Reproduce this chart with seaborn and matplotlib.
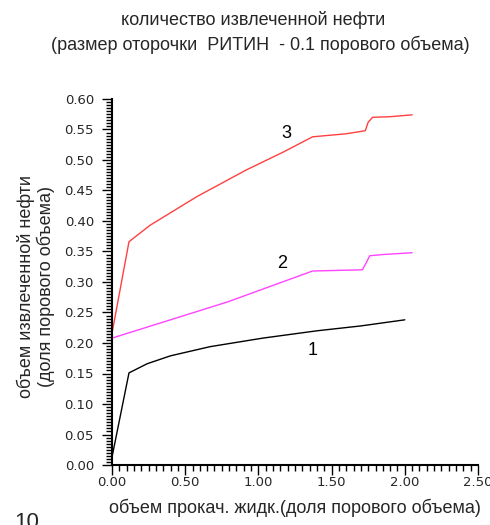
import matplotlib
matplotlib.use("Agg")
import matplotlib.pyplot as plt
import seaborn as sns
import pandas as pd
from matplotlib.ticker import MultipleLocator, FormatStrFormatter

# data
x1 = [0.0, 0.116, 0.24, 0.40, 0.67, 1.03, 1.40, 1.70, 2.00]
y1 = [0.013, 0.151, 0.166, 0.179, 0.194, 0.208, 0.220, 0.228, 0.238]
x2 = [0.0, 0.785, 1.37, 1.71, 1.74, 1.76, 1.85, 2.05]
y2 = [0.208, 0.267, 0.318, 0.320, 0.333, 0.343, 0.345, 0.348]
x3 = [0.0, 0.116, 0.26, 0.58, 0.92, 1.17, 1.37, 1.60, 1.73, 1.75, 1.78, 1.90, 2.05]
y3 = [0.216, 0.366, 0.393, 0.440, 0.484, 0.513, 0.538, 0.543, 0.548, 0.562, 0.570, 0.571, 0.574]
series_names = ["1", "2", "3"]
series_colors = ["#000000", "#ff44ff", "#ff4040"]
label_pos = [(1.37, 0.188), (1.16, 0.331), (1.19, 0.544)]

title1 = "количество извлеченной нефти"
title2 = "(размер оторочки  РИТИН  - 0.1 порового объема)"
xlabel = "объем прокач. жидк.(доля порового объема)"
ylabel = "объем извлеченной нефти\n(доля порового объема)"

sns.set_style("white")
plt.rcParams['font.family'] = ['Liberation Sans', 'DejaVu Sans']

df = pd.concat([
    pd.DataFrame({"x": x, "y": y, "s": n})
    for x, y, n in zip([x1, x2, x3], [y1, y2, y3], series_names)
])

fig = plt.figure(figsize=(4.9, 5.25), dpi=100)
ax = fig.add_axes([112/490, 1 - 465/525, 366/490, 366/525])
sns.lineplot(data=df, x="x", y="y", hue="s", palette=dict(zip(series_names, series_colors)),
             sort=False, estimator=None, linewidth=1.0, legend=False, ax=ax)

for n, (px, py) in zip(series_names, label_pos):
    ax.text(px, py, n, fontsize=13, ha="center", va="center", color="black")

ax.set_xlim(0, 2.5)
ax.set_ylim(0, 0.6)
ax.xaxis.set_major_locator(MultipleLocator(0.5))
ax.xaxis.set_minor_locator(MultipleLocator(0.05))
ax.yaxis.set_major_locator(MultipleLocator(0.05))
ax.yaxis.set_minor_locator(MultipleLocator(0.005))
ax.xaxis.set_major_formatter(FormatStrFormatter("%.2f"))
ax.yaxis.set_major_formatter(FormatStrFormatter("%.2f"))
ax.tick_params(which="major", direction="out", length=7, width=1, color="black",
               labelsize=9.5, bottom=True, left=True)
ax.tick_params(axis="x", which="major", pad=1)
ax.tick_params(axis="y", which="major", pad=6)
ax.tick_params(which="minor", direction="out", length=4, width=1, color="black",
               bottom=True, left=True)
for lab in ax.get_xticklabels() + ax.get_yticklabels():
    lab.set_family(['DejaVu Sans'])
for s in ["top", "right"]:
    ax.spines[s].set_visible(False)
for s in ["left", "bottom"]:
    ax.spines[s].set_color("black")
    ax.spines[s].set_linewidth(1.5)

ax.set_xlabel("")
ax.set_ylabel(ylabel, fontsize=13, linespacing=1.15, ha="center", va="center")
ax.yaxis.set_label_coords((36 - 112) / 366, (465 - 287) / 366)

fig.text(295/490, 1 - 508/525, xlabel, fontsize=13, ha="center", va="center")
fig.text(253/490, 1 - 20/525, title1, fontsize=13, ha="center", va="center")
fig.text(260/490, 1 - 45/525, title2, fontsize=13, ha="center", va="center")
fig.text(14/490, 1 - 512/525, "10", fontsize=16, ha="left", va="top")

fig.savefig("out.png", dpi=100)
